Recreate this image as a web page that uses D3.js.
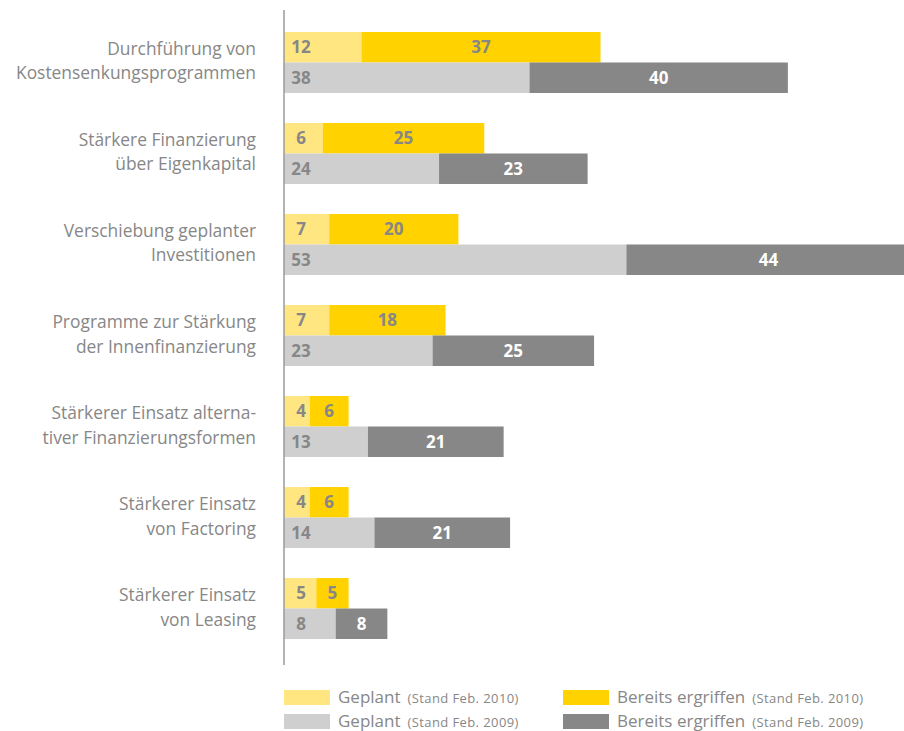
<!DOCTYPE html>
<html>
<head>
<meta charset="utf-8">
<script src="https://cdn.jsdelivr.net/npm/d3@7"></script>
<style>
    body { margin: 0; background: #fff; }
    svg { display: block; font-family: "Open Sans", sans-serif; }
</style>
</head>
<body>
<div id="chart"></div>
<script>
var WIDTH = 904;
var HEIGHT = 731;

// Data
var categories = [
    ["Durchführung von", "Kostensenkungsprogrammen"],
    ["Stärkere Finanzierung", "über Eigenkapital"],
    ["Verschiebung geplanter", "Investitionen"],
    ["Programme zur Stärkung", "der Innenfinanzierung"],
    ["Stärkerer Einsatz alterna-", "tiver Finanzierungsformen"],
    ["Stärkerer Einsatz", "von Factoring"],
    ["Stärkerer Einsatz", "von Leasing"]
];
var geplant2010  = [12, 6, 7, 7, 4, 4, 5];
var ergriffen2010 = [37, 25, 20, 18, 6, 6, 5];
var geplant2009  = [38, 24, 53, 23, 13, 14, 8];
var ergriffen2009 = [40, 23, 44, 25, 21, 21, 8];

var legendLabels = [
    ["Geplant", "(Stand Feb. 2010)"],
    ["Bereits ergriffen", "(Stand Feb. 2010)"],
    ["Geplant", "(Stand Feb. 2009)"],
    ["Bereits ergriffen", "(Stand Feb. 2009)"]
];

var COLORS = {
    geplant2010: "#ffe681",
    ergriffen2010: "#ffd200",
    geplant2009: "#cfcfcf",
    ergriffen2009: "#878787"
};
var TEXT = "#878787";

var svg = d3.select("#chart").append("svg")
    .attr("width", WIDTH)
    .attr("height", HEIGHT);

var x = d3.scaleLinear().domain([0, 100]).range([284, 930]);

var y = d3.scaleBand()
    .domain(d3.range(categories.length))
    .range([32, 639])
    .paddingInner(0.33)
    .paddingOuter(0)
    .align(0);

var row = d3.scaleBand()
    .domain(["2010", "2009"])
    .range([0, y.bandwidth()]);

// one entry per row with its two segments
var rows = [];
categories.forEach(function(c, i) {
    rows.push({ i: i, year: "2010", a: geplant2010[i], b: ergriffen2010[i],
        colA: COLORS.geplant2010, colB: COLORS.ergriffen2010, textB: TEXT });
    rows.push({ i: i, year: "2009", a: geplant2009[i], b: ergriffen2009[i],
        colA: COLORS.geplant2009, colB: COLORS.ergriffen2009, textB: "#fff" });
});

var g = svg.append("g").attr("class", "bars");

var rg = g.selectAll("g.row")
    .data(rows)
    .enter().append("g")
    .attr("class", "row")
    .attr("transform", function(d) { return "translate(0," + (y(d.i) + row(d.year)) + ")"; });

rg.append("rect")
    .attr("x", x(0))
    .attr("width", function(d) { return x(d.a) - x(0); })
    .attr("height", row.bandwidth())
    .attr("fill", function(d) { return d.colA; });

rg.append("rect")
    .attr("x", function(d) { return x(d.a); })
    .attr("width", function(d) { return x(d.a + d.b) - x(d.a); })
    .attr("height", row.bandwidth())
    .attr("fill", function(d) { return d.colB; });

rg.append("text")
    .attr("x", x(0) + 17)
    .attr("y", row.bandwidth() / 2)
    .attr("dy", "0.36em")
    .attr("text-anchor", "middle")
    .attr("font-size", 17)
    .attr("font-weight", "bold")
    .attr("fill", TEXT)
    .text(function(d) { return d.a; });

rg.append("text")
    .attr("x", function(d) { return Math.min((x(d.a) + x(d.a + d.b)) / 2, (x(d.a) + WIDTH) / 2 + 4); })
    .attr("y", row.bandwidth() / 2)
    .attr("dy", "0.36em")
    .attr("text-anchor", "middle")
    .attr("font-size", 17)
    .attr("font-weight", "bold")
    .attr("fill", function(d) { return d.textB; })
    .text(function(d) { return d.b; });

// vertical axis line
svg.append("line")
    .attr("x1", x(0)).attr("x2", x(0))
    .attr("y1", 10).attr("y2", 665)
    .attr("stroke", "#9a9a9a")
    .attr("stroke-width", 1.5);

// category labels
var labels = svg.append("g")
    .attr("class", "labels")
    .selectAll("text")
    .data(categories)
    .enter().append("text")
    .attr("text-anchor", "end")
    .attr("font-size", 17.4)
    .attr("fill", TEXT);

labels.each(function(d, i) {
    var mid = y(i) + y.bandwidth() / 2;
    d3.select(this).selectAll("tspan")
        .data(d)
        .enter().append("tspan")
        .attr("x", 256)
        .attr("y", function(t, j) { return mid - 7.5 + j * 24.5; })
        .text(function(t) { return t; });
});

// legend
var legendColors = [COLORS.geplant2010, COLORS.ergriffen2010, COLORS.geplant2009, COLORS.ergriffen2009];
var legend = svg.append("g").attr("class", "legend")
    .selectAll("g")
    .data(legendLabels)
    .enter().append("g")
    .attr("transform", function(d, i) {
        return "translate(" + (i % 2 === 0 ? 284 : 563) + "," + (690 + Math.floor(i / 2) * 24) + ")";
    });

legend.append("rect")
    .attr("width", 46)
    .attr("height", 15)
    .attr("fill", function(d, i) { return legendColors[i]; });

var lt = legend.append("text")
    .attr("x", 54)
    .attr("y", 12.5)
    .attr("fill", TEXT);

lt.append("tspan")
    .attr("font-size", 17)
    .text(function(d) { return d[0]; });

lt.append("tspan")
    .attr("dx", 7)
    .attr("font-size", 13)
    .attr("letter-spacing", 0.4)
    .text(function(d) { return d[1]; });
</script>
</body>
</html>
